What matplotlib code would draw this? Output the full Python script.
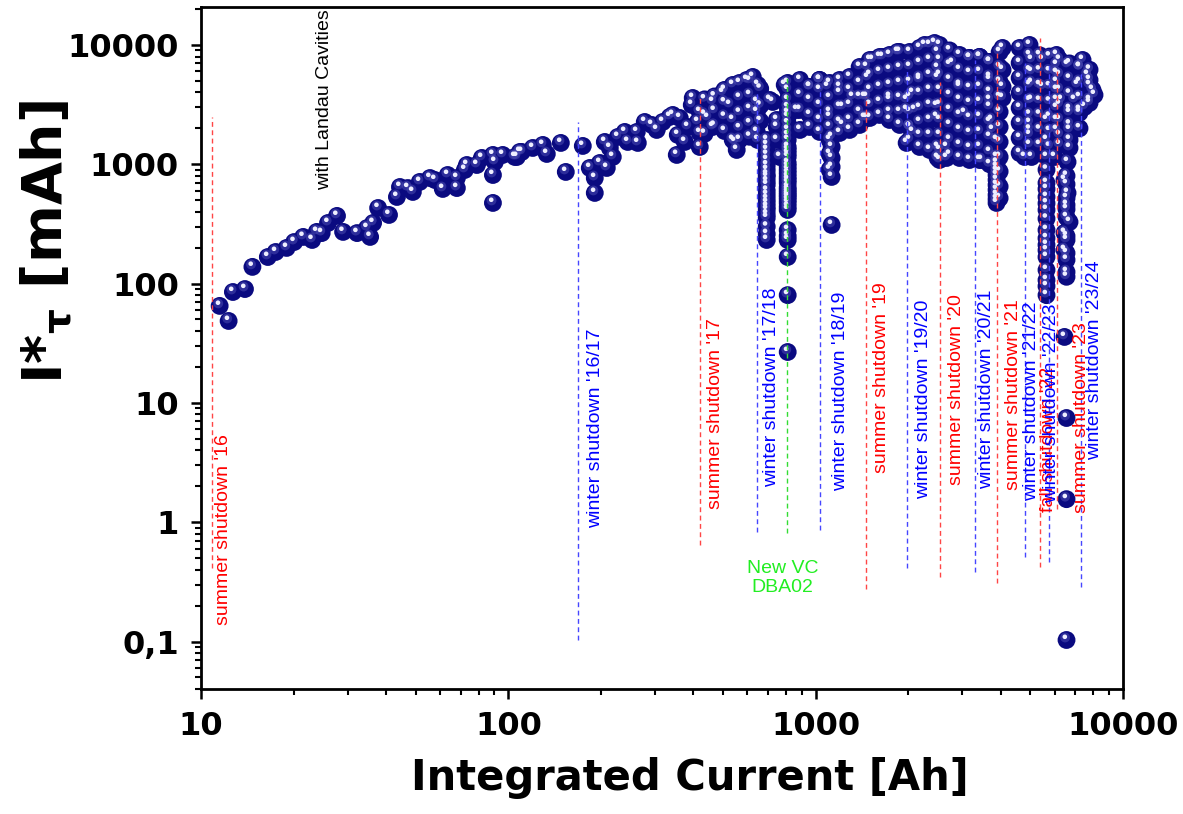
import numpy as np
import matplotlib
matplotlib.use('Agg')
import matplotlib.pyplot as plt
from matplotlib.transforms import ScaledTranslation
from matplotlib.ticker import LogLocator, NullFormatter

plt.rcParams['font.family'] = ['Liberation Sans', 'DejaVu Sans']
plt.rcParams['mathtext.fontset'] = 'custom'
plt.rcParams['mathtext.rm'] = 'DejaVu Sans:bold'
plt.rcParams['mathtext.it'] = 'DejaVu Sans:bold'

# integrated current [Ah] and I*tau [mAh]
x_ah = [11.5, 12.3, 12.7, 13.9, 14.7, 16.5, 17.5, 19.0, 20.1, 21.5, 23.0, 23.8, 24.7, 25.9,
        27.7, 29.0, 32.2, 34.7, 35.5, 36.3, 37.7, 40.9, 43.4, 44.4, 47.1, 48.9, 51.5, 55.6,
        57.7, 61.2, 63.5, 68.0, 68.0, 72.2, 73.3, 79.0, 82.0, 89.1, 89.1, 89.1, 90.4, 95.9,
        105, 109,
        106.6, 110.6, 120.1, 129.5, 133.4, 148.2, 153.8, 174.7, 184.1, 191.1, 191.1, 198.5,
        206, 209.1, 213.9, 218.7, 227.1, 239.3, 244.7, 261.8, 263.8, 277.9, 292.9, 304, 318,
        335.1, 342.8, 361.2, 355.9, 353.2, 375, 383.5, 398.1, 395.2, 413.3, 419.6, 419.6,
        419.6, 445.5, 462.4, 462.4, 498.4, 525.2, 537.2, 537.2, 545.3, 553.5, 537.2, 596.8,
        624.2, 648, 643.2, 643.2, 643.2, 648, 708.8, 747, 747, 763.9, 747, 724.9,
        693, 693, 693, 693, 693, 693, 693, 693, 693, 693, 693,
        811, 811, 811, 811, 811, 811, 811, 811, 811, 811, 811, 811, 811, 811, 811, 811, 811,
        811, 811, 811, 811, 811, 811, 811, 867.6, 793,
        956, 1030, 1094, 1110, 1127, 1127, 1127, 1127, 1127, 1127, 1197, 1224, 1224, 1319,
        1465, 1476, 1465, 1465,
        1532, 1651, 1740, 1740, 1848, 1443, 1443, 1977, 1977, 2099, 2068, 2022, 2068, 1977,
        2179, 2262, 2438, 2493, 2493, 2493, 2475, 2475, 2493, 2493, 2667, 2667, 2789, 2939,
        3051, 3168, 3415, 3681, 3681, 3681, 3736, 3764, 3878, 3878, 3878, 3878, 3878, 3878,
        3878, 4056, 4056, 4056, 4056, 3467,
        4965, 5040, 5040, 5040, 5040, 4965, 4965, 4965, 4783, 5040,
        5472, 5472, 5638, 5638, 5638, 5638, 5638, 5638, 5638, 5638, 5638, 5638, 5638,
        6078, 6078, 6078, 6078, 6078, 6078, 6078, 6078, 6078, 5987,
        6600, 6699, 6699, 6699, 6600, 6452, 6600, 6550, 6699, 6452, 6452, 6550, 6452, 6550,
        6550, 6550, 6550, 6550,
        7219, 7667, 7783, 7497, 7958, 7112, 6954, 6216, 6310, 7386, 7783, 8078, 7219]
y_mah = [65, 48.6, 85, 90, 138, 167, 184, 199, 223, 246, 232, 271, 265, 322,
         369, 271, 265, 292, 246, 322, 430, 376, 532, 645, 632, 586, 711, 767,
         738, 621, 813, 632, 767, 896, 986, 986, 1130, 1197, 813, 474, 1045, 1197,
         1151, 1268,
         1151, 1268, 1370, 1452, 1220, 1509, 862, 1424, 931, 575, 767, 1025,
         1538, 931, 1370, 1151, 1694, 1866, 1538, 1866, 1509, 2262, 2135, 1939, 2262,
         2492, 2590, 2444, 1761, 1197, 1538, 2054, 3595, 3141, 2262, 1396, 2744,
         1830, 2444, 2054, 3328, 3960, 3141, 4621, 2351, 1538, 1318, 1598, 5089,
         5393, 4621, 3328, 2744, 1866, 1598, 3459, 2351, 1598, 1151, 2054, 3328,
         1598, 1318, 1086, 896, 783, 671, 553, 474, 414, 355, 232,
         4804, 4196, 3459, 2692, 2492, 1939, 1598, 1396, 1318, 1151, 1025, 896, 783,
         697, 609, 553, 502, 474, 414, 281, 232, 167, 80, 26.7, 2852, 4621,
         4446, 5089, 4446, 2492, 1694, 1396, 1129, 949, 783, 310, 4446, 3022, 2135, 3665,
         6541, 5290, 3665, 2444,
         7486, 7934, 3665, 2351, 8737, 3665, 2444, 3459, 2852, 2852, 3960, 2054, 1866, 1509,
         5089, 10000, 10390, 8737, 6416, 5290, 3081, 2492, 1396, 1129, 1396, 1129, 7065, 4446,
         2692, 7781, 7934, 7203, 5089, 3459, 2351, 1939, 1598, 1151, 949, 813, 671, 553,
         474, 9438, 6172, 4446, 3595, 1086,
         10000, 7486, 5939, 4804, 3459, 2219, 1761, 1452, 1151, 1151,
         7486, 4446, 1151, 697, 532, 414, 281, 211, 167, 107, 80, 2351, 1598,
         8245, 6799, 5825, 4896, 4196, 3459, 2965, 2351, 1939, 1151,
         6799, 2692, 1939, 1370, 1045, 739, 575, 456, 328, 266, 191, 114, 35.7, 7.47,
         1.56, 0.103, 232, 158,
         6541, 5604, 3265, 3022, 4196, 4621, 3459, 1452, 3459, 7486, 5089, 3810, 2852]

# the crowded part: points stacked in columns (x [Ah], y list [mAh])
col_x = [435, 468, 505, 565, 610, 660,
         693, 811, 889, 956, 1030, 1110, 1197, 1290, 1390, 1501, 1615, 1740, 1876, 2022,
         2179, 2348, 2530, 2728, 2939, 3168, 3415, 3681, 3878, 3968,
         4610, 4965, 5352, 5638, 5765, 6216, 6550, 6699, 7219, 7783]
col_y = [[3500, 2600, 1800], [3700, 2800, 2100], [4200, 3300, 2500, 1900],
         [4800, 3600, 2700, 2000, 1600], [5000, 3800, 2900, 2200, 1700], [4300, 3100, 2300],
         [1450, 1200, 980, 820, 720, 600, 510, 440, 380, 300, 260],
         [3000, 2200, 1750, 1230, 960, 840, 740, 640, 580, 530, 440, 250],
         [5089, 3810, 2852, 1939],
         [4446, 3459, 2590, 2054],
         [5089, 4196, 3141, 2351, 1866],
         [4804, 3595, 2744, 2054, 1598, 1220, 900],
         [5089, 3960, 3022, 2262, 1830],
         [5393, 4196, 3141, 2351, 1939],
         [6541, 4804, 3665, 2744, 2135],
         [7486, 5604, 4196, 3141, 2444],
         [7934, 5939, 4446, 3328, 2590],
         [8245, 6172, 4621, 3459, 2744],
         [8737, 6416, 4804, 3595, 2744, 2135],
         [8737, 6541, 4896, 3665, 2744, 2054, 1598],
         [9438, 7065, 5290, 3960, 2965, 2262, 1761, 1396],
         [10000, 7486, 5604, 4196, 3141, 2351, 1761, 1318],
         [10000, 7486, 5604, 4196, 3141, 2351, 1761, 1318, 1086],
         [9000, 6800, 5100, 3800, 2850, 2135, 1600, 1200],
         [8245, 6172, 4621, 3459, 2590, 1939, 1452, 1129],
         [7781, 5825, 4350, 3265, 2444, 1830, 1370, 1086],
         [7934, 5939, 4446, 3328, 2492, 1866, 1396, 1086],
         [7203, 5393, 4036, 3022, 2262, 1694, 1268, 1000],
         [1030, 880, 740, 610, 510],
         [8700, 6500, 4900, 3650, 2750, 2050, 1540, 1150, 870, 650, 520],
         [9438, 7065, 5290, 3960, 2965, 2219, 1660, 1240],
         [8200, 6100, 4600, 3400, 2600, 1950],
         [8200, 6100, 4600, 3400, 2600, 1950, 1450],
         [900, 620, 470, 350, 240, 190, 130, 95],
         [8000, 6000, 4500, 3350, 2500, 1900, 1400],
         [7500, 5600, 4200, 3150, 2350, 1750],
         [800, 680, 520, 420, 360, 250, 180, 125],
         [7000, 5200, 3900, 2900, 2150, 1600],
         [6500, 4900, 3650, 2700, 2000],
         [6200, 4600, 3450]]

# shutdown markers
sd_labels = ["summer shutdown '16", "winter shutdown '16/17", "summer shutdown '17",
             "winter shutdown '17/18", "winter shutdown '18/19", "summer shutdown '19",
             "winter shutdown '19/20", "summer shutdown '20", "winter shutdown '20/21",
             "summer shutdown '21", "winter shutdown '21/22", "fall shutdown '22",
             "winter shutdown '22/23", "summer shutdown '23", "winter shutdown '23/24"]
sd_kind = ['s', 'w', 's', 'w', 'w', 's', 'w', 's', 'w', 's', 'w', 's', 'w', 's', 'w']
sd_x = [10.86, 168, 420, 643, 1030, 1455, 1977, 2530, 3290, 3880, 4786, 5350, 5765, 6120, 7280]
sd_top = [2492, 2262, 3810, 3960, 4446, 3665, 6000, 4896, 7486, 8570, 7000, 11450, 7000, 6000, 6000]
sd_bottom = [0.413, 0.103, 0.644, 0.828, 0.86, 0.275, 0.413, 0.347, 0.383, 0.309, 0.511, 0.42,
             0.46, 1.3, 0.286]
sd_text_x = [11.1, 180, 442, 673, 1127, 1532, 2099, 2687, 3365, 4117, 4713, 5352, 5513, 6853, 7608]
sd_text_y = [0.137, 0.89, 1.28, 1.97, 1.83, 2.59, 1.56, 2.05, 1.90, 1.86, 1.52, 1.22, 1.44, 1.19, 3.32]

vc_x, vc_top, vc_bottom = 805, 5393, 0.81

line_col = {'s': '#ff4646', 'w': '#4646ff'}
text_col = {'s': '#ff0000', 'w': '#0000ff'}

xs = list(x_ah) + [cx for cx, ys in zip(col_x, col_y) for _ in ys]
ys_all = list(y_mah) + [v for ys in col_y for v in ys]

fig = plt.figure(figsize=(11.83, 8.14), dpi=100)
ax = fig.add_axes([201/1183, 1-689/814, 922/1183, 682/814])
ax.set_xscale('log')
ax.set_yscale('log')

# balls with a highlight
ax.scatter(xs, ys_all, s=165, color='#0a0a80', edgecolors='none', zorder=2)
glow = ax.transData + ScaledTranslation(-0.014, 0.025, fig.dpi_scale_trans)
ax.scatter(xs, ys_all, s=50, color='#4a4ab0', alpha=0.55, edgecolors='none',
           transform=glow, zorder=2.1)
hi = ax.transData + ScaledTranslation(-0.017, 0.032, fig.dpi_scale_trans)
ax.scatter(xs, ys_all, s=11, color='#eeeeff', edgecolors='none', transform=hi, zorder=2.2)

dash = (0, (3.5, 2.5))
for lab, k, xv, yt, yb, tx, ty in zip(sd_labels, sd_kind, sd_x, sd_top, sd_bottom,
                                      sd_text_x, sd_text_y):
    ax.plot([xv, xv], [yb, yt], color=line_col[k], lw=1.0, ls=dash, zorder=3)
    ax.text(tx, ty, lab, rotation=90, ha='left', va='bottom', color=text_col[k],
            fontsize=14, zorder=4)

ax.plot([vc_x, vc_x], [vc_bottom, vc_top], color='#33dd33', lw=1.0, ls=dash, zorder=3)
ax.text(781, 0.34, 'New VC\nDBA02', color='#22ee22', fontsize=14, ha='center',
        va='center', multialignment='center', zorder=4)
ax.text(23.7, 609, 'with Landau Cavities', rotation=90, ha='left', va='bottom',
        color='black', fontsize=14, zorder=4)

ax.set_xlim(10, 10000)
ax.set_ylim(0.04, 20800)

xt = [10, 100, 1000, 10000]
yt = [0.1, 1, 10, 100, 1000, 10000]
ax.set_xticks(xt, ['10', '100', '1000', '10000'], fontsize=23, fontweight='bold',
              family='DejaVu Sans')
ax.set_yticks(yt, ['0,1', '1', '10', '100', '1000', '10000'], fontsize=23,
              fontweight='bold', family='DejaVu Sans')
ax.xaxis.set_minor_locator(LogLocator(base=10, subs=np.arange(2, 10), numticks=20))
ax.yaxis.set_minor_locator(LogLocator(base=10, subs=np.arange(2, 10), numticks=20))
ax.xaxis.set_minor_formatter(NullFormatter())
ax.yaxis.set_minor_formatter(NullFormatter())
ax.tick_params(which='major', direction='out', length=7, width=1.8, pad=9)
ax.tick_params(which='minor', direction='out', length=4, width=1.5)
for sp in ax.spines.values():
    sp.set_linewidth(2.0)

ax.set_xlabel('Integrated Current [Ah]', fontsize=30, fontweight='bold', family='DejaVu Sans')
ax.xaxis.set_label_coords(0.53, -0.10)
ax.set_ylabel(r'I*$_{\tau}$ [mAh]', fontsize=40, fontweight='bold', family='DejaVu Sans')
ax.yaxis.set_label_coords(-0.137, 0.655)

fig.savefig('out.png', dpi=100)
